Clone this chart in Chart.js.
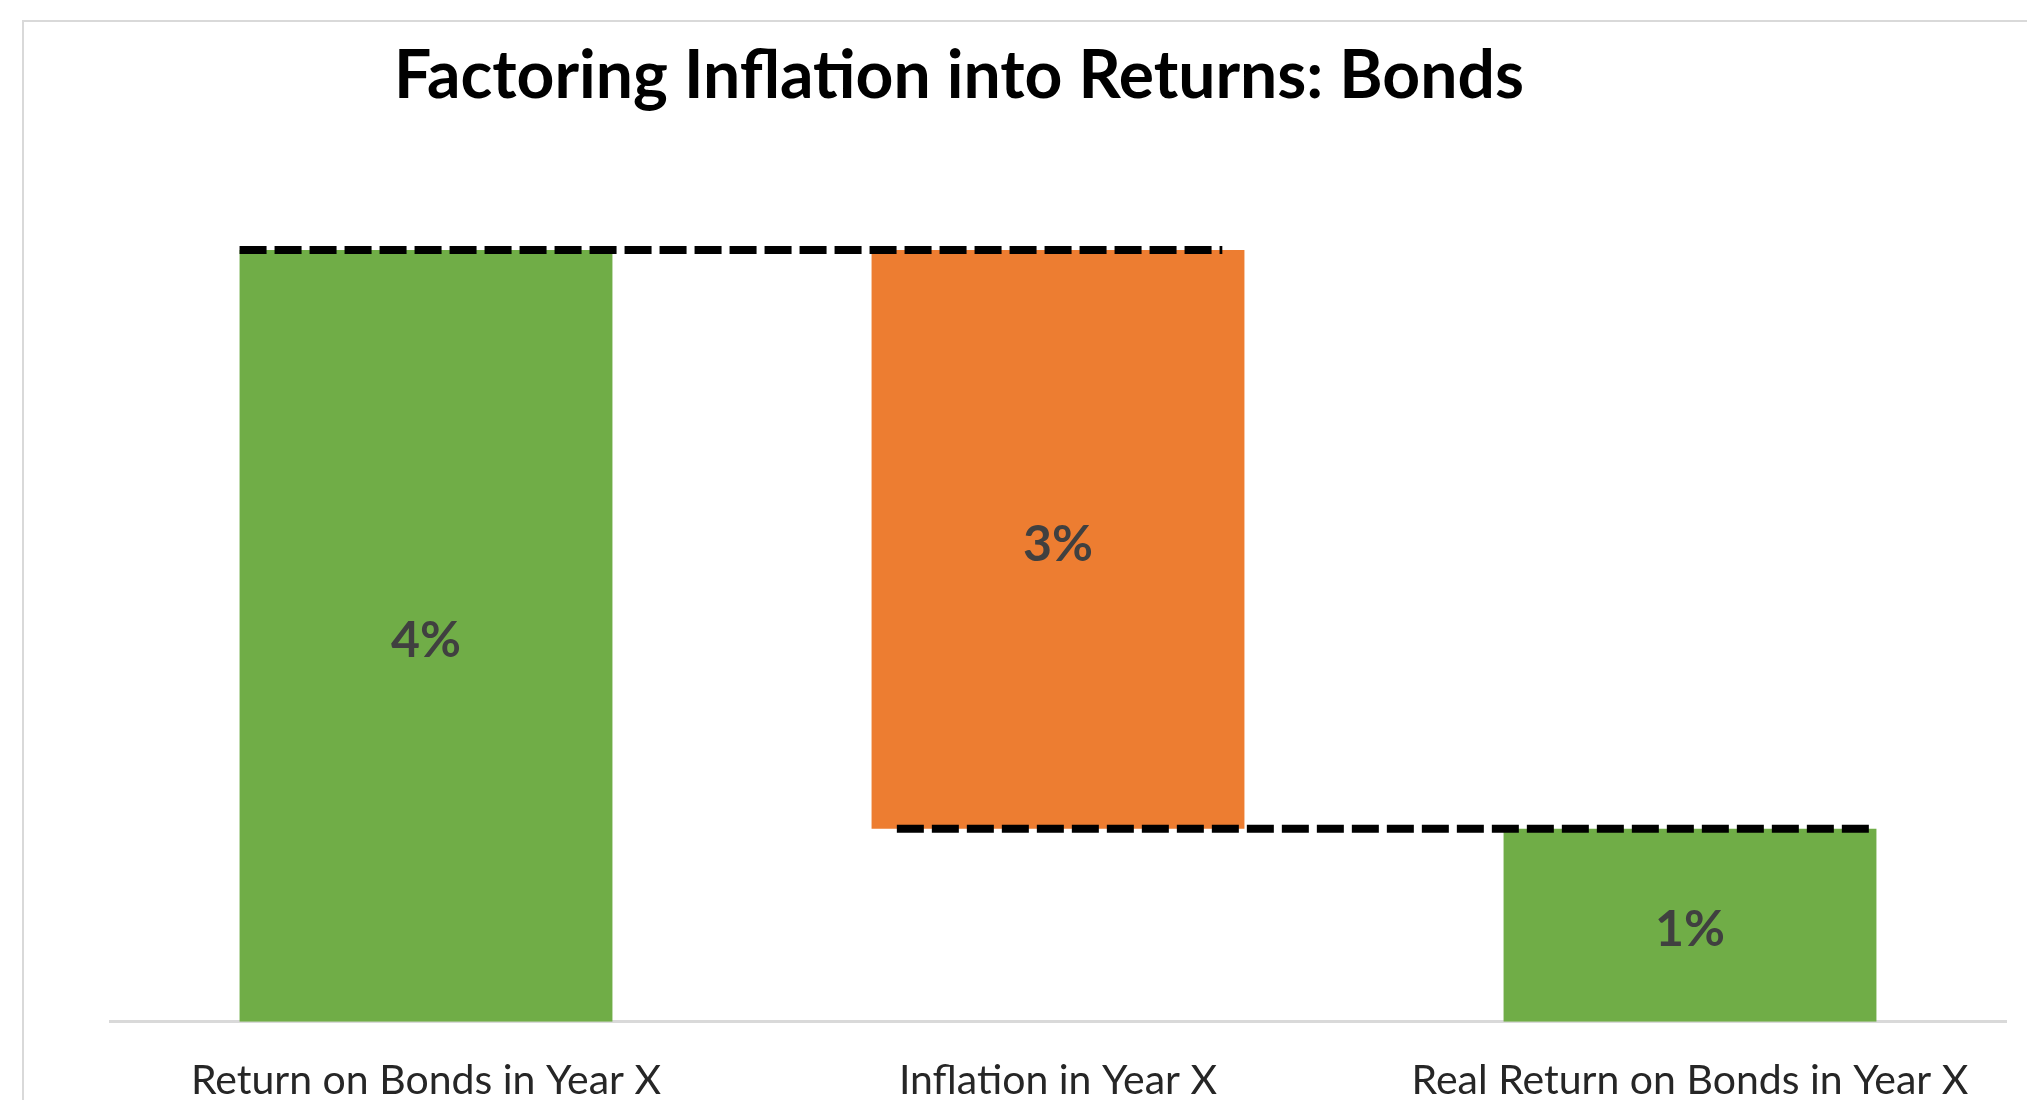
<!DOCTYPE html>
<html>
<head>
<meta charset="utf-8">
<script src="https://cdn.jsdelivr.net/npm/chart.js@4.4.1/dist/chart.umd.min.js"></script>
<style>
  html, body { margin: 0; padding: 0; background: #fff; overflow: hidden; }
  #wrap { width: 2027px; height: 1100px; }
</style>
</head>
<body>
<div id="wrap"><canvas id="waterfallChart" width="2027" height="1100"></canvas></div>
<script>
// data
const chartTitle = "Factoring Inflation into Returns: Bonds";
const categories = ["Return on Bonds in Year X", "Inflation in Year X", "Real Return on Bonds in Year X"];
const steps = [4, -3, 1]; // percent, last one is the resulting total
const isTotal = [false, false, true];
const barColors = ["#70AD47", "#ED7D31", "#70AD47"];

// dashed connectors, x in category units (0 = first category centre)
const connectorFrom = [-0.295, 0.745];
const connectorTo = [1.26, 2.295];

// floating ranges for the waterfall
let running = 0;
const ranges = steps.map((v, i) => {
  if (isTotal[i]) return [0, v];
  const start = running;
  running += v;
  return [Math.min(start, running), Math.max(start, running)];
});
// connector levels: running total after each step
const connectorLevel = [ranges[0][1], ranges[1][0]];

const FONT = "Lato, 'Open Sans', sans-serif";

// frame + title + value labels
const decorations = {
  id: "decorations",
  beforeDraw(chart) {
    const c = chart.ctx;
    c.save();
    c.strokeStyle = "#D9D9D9";
    c.lineWidth = 2;
    c.strokeRect(23, 21, 2200, 1300);
    c.restore();
  },
  afterDatasetsDraw(chart) {
    const c = chart.ctx;
    c.save();
    c.font = "bold 50px " + FONT;
    c.fillStyle = "#404040";
    c.textAlign = "center";
    c.textBaseline = "middle";
    const meta = chart.getDatasetMeta(0);
    meta.data.forEach((bar, i) => {
      c.fillText(Math.abs(steps[i]) + "%", bar.x, (bar.y + bar.base) / 2 + 5);
    });
    c.restore();
  },
  afterDraw(chart) {
    const c = chart.ctx;
    c.save();
    c.font = "bold 66px " + FONT;
    c.fillStyle = "#000";
    c.textAlign = "center";
    c.textBaseline = "middle";
    c.fillText(chartTitle, 959, 77);
    c.restore();
  },
};

const connectorSets = connectorFrom.map((x0, i) => ({
  type: "line",
  xAxisID: "x2",
  data: [
    { x: x0, y: connectorLevel[i] },
    { x: connectorTo[i], y: connectorLevel[i] },
  ],
  borderColor: "#000",
  borderWidth: 8,
  borderDash: [27, 8],
  borderCapStyle: "butt",
  pointRadius: 0,
  clip: false,
  order: 0,
}));

const ctx = document.getElementById("waterfallChart").getContext("2d");
const waterfallChart = new Chart(ctx, {
  type: "bar",
  data: {
    labels: categories,
    datasets: [
      {
        data: ranges,
        backgroundColor: barColors,
        borderWidth: 0,
        barPercentage: 0.59,
        categoryPercentage: 1,
        grouped: false,
        order: 1,
      },
      ...connectorSets,
    ],
  },
  options: {
    responsive: false,
    animation: false,
    layout: {
      padding: { top: 250, left: 110, right: 21, bottom: -39 },
    },
    plugins: {
      legend: { display: false },
      title: { display: false },
      tooltip: { enabled: false },
    },
    scales: {
      x: {
        grid: { display: false, drawTicks: false },
        border: { display: true, color: "#D9D9D9", width: 3 },
        ticks: {
          color: "#262626",
          padding: 34,
          font: { family: FONT, size: 41 },
          maxRotation: 0,
        },
      },
      x2: {
        type: "linear",
        display: false,
        offset: false,
        min: -0.5,
        max: 2.5,
      },
      y: {
        display: false,
        min: 0,
        max: 4,
      },
    },
  },
  plugins: [decorations],
});
</script>
</body>
</html>
